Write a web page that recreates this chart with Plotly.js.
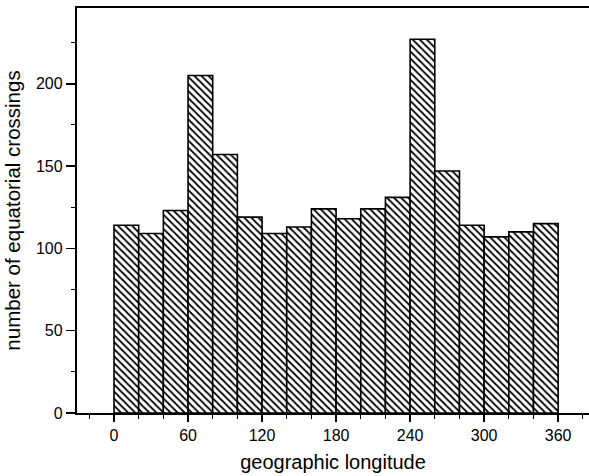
<!DOCTYPE html>
<html>
<head>
<meta charset="utf-8">
<script src="https://cdn.plot.ly/plotly-3.0.1.min.js"></script>
<style>html,body{margin:0;padding:0;background:#fff;overflow:hidden;}</style>
</head>
<body>
<div id="chart" style="width:589px;height:476px;"></div>
<script>
const binCenters = [10,30,50,70,90,110,130,150,170,190,210,230,250,270,290,310,330,350];
const counts = [114,109,123,205,157,119,109,113,124,118,124,131,227,147,114,107,110,115];
const xTickVals = [0,60,120,180,240,300,360];
const yTickVals = [0,50,100,150,200];

const font = "Liberation Sans, Arial, sans-serif";

Plotly.newPlot('chart', [{
  type: 'bar',
  x: binCenters,
  y: counts,
  width: 20,
  marker: {
    color: 'white',
    line: {color: 'black', width: 1.6},
    pattern: {shape: '\\', fgcolor: 'black', bgcolor: 'white', size: 5, solidity: 0.35}
  },
  hoverinfo: 'skip'
}], {
  width: 589, height: 476,
  margin: {l: 77, r: 0, t: 8, b: 63},
  paper_bgcolor: 'white', plot_bgcolor: 'white',
  showlegend: false,
  bargap: 0,
  font: {family: font, color: 'black', size: 16},
  xaxis: {
    range: [-30, 385],
    tickvals: xTickVals,
    ticktext: xTickVals.map(String),
    ticks: 'outside', ticklen: 7, tickwidth: 1.6, tickcolor: 'black',
    minor: {dtick: 20, tick0: 0, ticks: 'outside', ticklen: 4, tickwidth: 1.2, tickcolor: 'black'},
    showline: true, linecolor: 'black', linewidth: 2.2, mirror: true,
    showgrid: false, zeroline: false,
    tickfont: {size: 16, family: font},
    title: {text: 'geographic longitude', font: {size: 20, family: font}, standoff: 12}
  },
  yaxis: {
    range: [0, 246],
    tickvals: yTickVals,
    ticktext: yTickVals.map(String),
    ticks: 'outside', ticklen: 9, tickwidth: 1.6, tickcolor: 'black',
    minor: {dtick: 25, tick0: 0, ticks: 'outside', ticklen: 4, tickwidth: 1.2, tickcolor: 'black'},
    showline: true, linecolor: 'black', linewidth: 2.2, mirror: false,
    showgrid: false, zeroline: false,
    tickfont: {size: 16, family: font},
    title: {text: 'number of equatorial crossings', font: {size: 20.5, family: font}, standoff: 10}
  }
}, {staticPlot: true});
</script>
</body>
</html>
